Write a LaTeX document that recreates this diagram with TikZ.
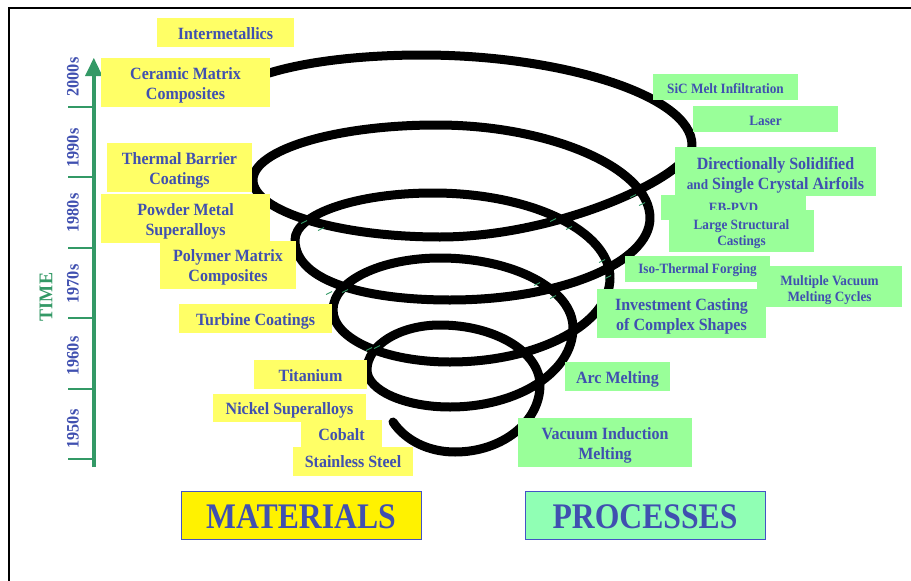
\documentclass[tikz,border=0pt]{standalone}
\usepackage{fontspec}
\setmainfont[FakeStretch=0.93]{Liberation Serif}
\newfontfamily\bigfont[FakeStretch=0.88]{Liberation Serif}
\definecolor{txtblue}{RGB}{64,80,176}
\definecolor{labyellow}{RGB}{255,255,102}
\definecolor{labgreen}{RGB}{153,255,153}
\definecolor{procgreen}{RGB}{144,255,180}
\definecolor{tlgreen}{RGB}{51,153,102}
\definecolor{boxblue}{RGB}{68,84,196}
\tikzset{
  spiral/.style={line width=9pt, black, line cap=round, line join=round},
  ybox/.style={fill=labyellow, inner sep=0pt},
  gbox/.style={fill=labgreen, inner sep=0pt},
  ltext/.style={inner sep=0pt, text=txtblue, font=\fontsize{17.2}{20}\selectfont\bfseries, align=center},
  stext/.style={inner sep=0pt, text=txtblue, font=\fontsize{14.2}{16}\selectfont\bfseries, align=center},
  yearlab/.style={rotate=90, text=txtblue, inner sep=0pt, font=\fontsize{17.5}{20}\selectfont\bfseries},
  tick/.style={tlgreen, line width=2.7pt},
  gtick/.style={tlgreen, line width=0.9pt},
  bigbox/.style={draw=boxblue, line width=1pt, inner sep=0pt},
  bigtext/.style={inner sep=0pt, text=txtblue, font=\bigfont\fontsize{36}{40}\selectfont\bfseries}
}
\begin{document}
\begin{tikzpicture}[x=1pt,y=-1pt]
\useasboundingbox (0,0) rectangle (911,581);
\fill[white] (0,0) rectangle (911,581);
% frame
\draw[line width=2.5pt, black] (9,581) -- (9,8) -- (911,8);
% spiral
\draw[spiral] (266,74) .. controls (310,60) and (370,55) .. (422,55)
 .. controls (560,55) and (692,95) .. (692,145)
 .. controls (692,175) and (560,237) .. (440,237)
 .. controls (337,237) and (253,211) .. (253,180)
 .. controls (253,150) and (335,125) .. (437,125)
 .. controls (550,125) and (650,168) .. (650,218)
 .. controls (650,263) and (560,300) .. (450,300)
 .. controls (370,300) and (295,283) .. (295,240)
 .. controls (295,214) and (357,193) .. (433,193)
 .. controls (531,193) and (610,231) .. (610,278)
 .. controls (610,324) and (538,362) .. (450,362)
 .. controls (385,362) and (333,339) .. (333,310)
 .. controls (333,281) and (381,258) .. (440,258)
 .. controls (513,258) and (573,289) .. (573,328)
 .. controls (573,372) and (518,407) .. (450,407)
 .. controls (404,407) and (367,390) .. (367,370)
 .. controls (367,345) and (400,325) .. (440,325)
 .. controls (495,325) and (540,352) .. (540,385)
 .. controls (540,422) and (502,452) .. (455,452)
 .. controls (428,452) and (405,440) .. (393,422);
% small green marks at crossings
\foreach \px/\py in {633/196,642/204,304/222,321/229,553/220,569/228,602/261,608/277,329/293,345/291,537/284,553/297,369/349,377/347} {
  \draw[gtick] (\px-3,\py+1.5) -- (\px+3,\py-1.5);
}
% timeline
\coordinate (tlbot) at (94,467);
\coordinate (tltop) at (94,75);
\draw[tlgreen, line width=4pt] (tlbot) -- (tltop);
\fill[tlgreen] (85,76) -- (102.5,76) -- (93.8,58) -- cycle;
\foreach \yy in {107,177,248,318,389,459} {
  \draw[tick] (68,\yy) -- (95,\yy);
}
\node[yearlab] (y2000) at (73,77) {2000s};
\node[yearlab] (y1990) at (73,148) {1990s};
\node[yearlab] (y1980) at (73,213) {1980s};
\node[yearlab] (y1970) at (73,284) {1970s};
\node[yearlab] (y1960) at (73,356) {1960s};
\node[yearlab] (y1950) at (73,429) {1950s};
\node[rotate=90, text=tlgreen, inner sep=0pt, font=\fontsize{19.4}{22}\selectfont\bfseries] (time) at (46,297) {TIME};
% materials
\node[ybox, minimum width=137pt, minimum height=29pt] (inter) at (225.5,32.5) {};
\node[ltext] (intert) at ([yshift=-1.5pt]inter.center) {Intermetallics};
\node[ybox, minimum width=169pt, minimum height=49pt] (cmc) at (185.5,82.5) {};
\node[ltext] (cmct) at ([yshift=-3pt]cmc.center) {Ceramic Matrix\\Composites};
\node[ybox, minimum width=145pt, minimum height=49pt] (tbc) at (179.5,167.5) {};
\node[ltext] (tbct) at ([yshift=-2.5pt]tbc.center) {Thermal Barrier\\Coatings};
\node[ybox, minimum width=169pt, minimum height=49pt] (pms) at (185.5,218.5) {};
\node[ltext] (pmst) at ([yshift=-3pt]pms.center) {Powder Metal\\Superalloys};
\node[ybox, minimum width=136pt, minimum height=48pt] (pmc) at (228,265) {};
\node[ltext] (pmct) at ([yshift=-2.5pt]pmc.center) {Polymer Matrix\\Composites};
\node[ybox, minimum width=153pt, minimum height=29pt] (tc) at (255.5,318.5) {};
\node[ltext] (tct) at ([yshift=-2.5pt]tc.center) {Turbine Coatings};
\node[ybox, minimum width=113pt, minimum height=29pt] (ti) at (310.5,374.5) {};
\node[ltext] (tit) at ([yshift=-1.5pt]ti.center) {Titanium};
\node[ybox, minimum width=153pt, minimum height=28pt] (nis) at (289.5,408) {};
\node[ltext] (nist) at ([yshift=-2.5pt]nis.center) {Nickel Superalloys};
\node[ybox, minimum width=81pt, minimum height=27pt] (co) at (341.5,433.5) {};
\node[ltext] (cot) at ([yshift=-1.5pt]co.center) {Cobalt};
\node[ybox, minimum width=120pt, minimum height=29pt] (ss) at (353,461.5) {};
\node[ltext] (sst) at ([yshift=-0.5pt]ss.center) {Stainless Steel};
% processes
\node[gbox, minimum width=145pt, minimum height=26pt] (sic) at (725.5,87) {};
\node[stext] (sict) at ([yshift=-1.5pt]sic.center) {SiC Melt Infiltration};
\node[gbox, minimum width=145pt, minimum height=26pt] (laser) at (765.5,119) {};
\node[stext] (lasert) at ([yshift=-1.5pt]laser.center) {Laser};
\node[gbox, minimum width=201pt, minimum height=49pt] (ds) at (775.5,171.5) {};
\node[ltext] (dst) at ([yshift=-3.5pt]ds.center) {Directionally Solidified\\{\fontsize{14.2}{16}\selectfont and} Single Crystal Airfoils};
\node[gbox, minimum width=145pt, minimum height=25pt] (eb) at (733.5,207.5) {};
\node[anchor=base, inner sep=0pt, text=txtblue, font=\fontsize{14.2}{16}\selectfont\bfseries] (ebt) at (733.5,212.5) {EB-PVD};
\node[gbox, minimum width=145pt, minimum height=42pt] (lsc) at (741.5,231) {};
\node[stext] (lsct) at ([yshift=-3pt]lsc.center) {Large Structural\\Castings};
\node[gbox, minimum width=145pt, minimum height=26pt] (itf) at (697.5,269) {};
\node[stext] (itft) at ([yshift=-1.5pt]itf.center) {Iso-Thermal Forging};
\node[gbox, minimum width=145pt, minimum height=41pt] (mvm) at (829.5,286.5) {};
\node[stext] (mvmt) at ([yshift=-3.5pt]mvm.center) {Multiple Vacuum\\Melting Cycles};
\node[gbox, minimum width=169pt, minimum height=49pt] (ics) at (681.5,313.5) {};
\node[ltext] (icst) at ([yshift=-3pt]ics.center) {Investment Casting\\of Complex Shapes};
\node[gbox, minimum width=105pt, minimum height=29pt] (arc) at (617.5,376.5) {};
\node[ltext] (arct) at ([yshift=-2.5pt]arc.center) {Arc Melting};
\node[gbox, minimum width=174pt, minimum height=49pt] (vim) at (605,442.5) {};
\node[ltext] (vimt) at ([yshift=-2.5pt]vim.center) {Vacuum Induction\\Melting};
% legend boxes
\node[bigbox, fill=yellow, minimum width=240pt, minimum height=48pt] (mat) at (301,515) {};
\node[bigtext] (matt) at ([yshift=-2pt]mat.center) {MATERIALS};
\node[bigbox, fill=procgreen, minimum width=240pt, minimum height=48pt] (proc) at (645,515) {};
\node[bigtext] (proct) at ([yshift=-2pt]proc.center) {PROCESSES};
\end{tikzpicture}
\end{document}
